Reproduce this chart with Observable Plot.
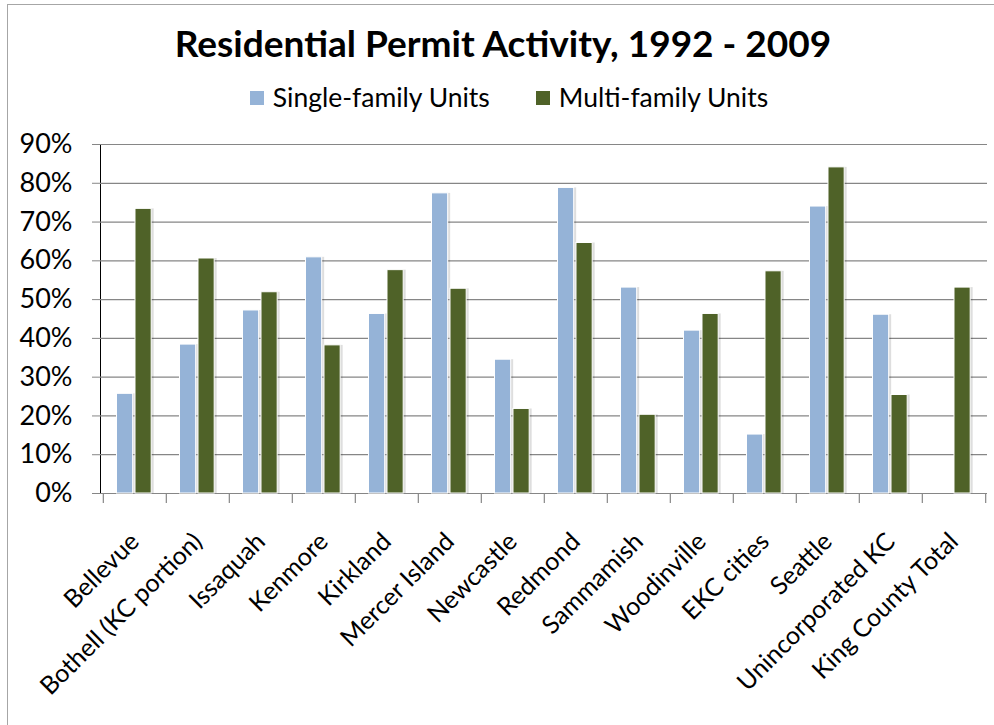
<!DOCTYPE html>
<html>
<head>
<meta charset="utf-8">
<script src="https://cdn.jsdelivr.net/npm/d3@7"></script>
<script src="https://cdn.jsdelivr.net/npm/@observablehq/plot@0.6"></script>
<style>
  html, body { margin: 0; padding: 0; background: #fff; overflow: hidden; }
  #wrap { position: relative; width: 994px; height: 725px; overflow: hidden; font-family: Lato, "Open Sans", sans-serif; }
  #border { position: absolute; left: 7px; top: 4px; width: 1100px; height: 900px; border: 1.5px solid #a6a6a6; box-sizing: border-box; }
  #title { position: absolute; left: 0; width: 1006px; top: 21px; text-align: center; font-weight: 700; font-size: 37px; line-height: 1.2; color: #000; white-space: nowrap; }
  #legend { position: absolute; left: 0; width: 1018px; top: 82px; display: flex; justify-content: center; font-size: 26.5px; line-height: 1.2; color: #000; }
  .item { display: flex; align-items: center; margin: 0 23px; }
  .sw { width: 14px; height: 14px; margin-right: 9px; }
  #chart { position: absolute; left: 0; top: 120px; }
  #chart svg [aria-label^="y-axis"] line, #chart svg [aria-label^="y-axis"] path { stroke: #868686; }
  #chart svg [aria-label^="y-axis"] text { font-size: 27px; }
  #chart svg [aria-label^="x-axis"] text { font-size: 25px; }
</style>
</head>
<body>
<div id="wrap">
  <div id="border"></div>
  <div id="title">Residential Permit Activity, 1992 - 2009</div>
  <div id="legend"></div>
  <div id="chart"></div>
</div>
<script>
const cities = ["Bellevue", "Bothell (KC portion)", "Issaquah", "Kenmore", "Kirkland", "Mercer Island", "Newcastle", "Redmond", "Sammamish", "Woodinville", "EKC cities", "Seattle", "Unincorporated KC", "King County Total"];
const singleFamily = [0.257, 0.384, 0.472, 0.609, 0.463, 0.774, 0.345, 0.788, 0.531, 0.420, 0.152, 0.740, 0.461, null];
const multiFamily  = [0.734, 0.606, 0.519, 0.382, 0.576, 0.528, 0.218, 0.646, 0.203, 0.463, 0.573, 0.841, 0.254, 0.531];
const seriesNames = ["Single-family Units", "Multi-family Units"];
const seriesColors = ["#95B3D7", "#4F6228"];
const yTicks = [0, 0.1, 0.2, 0.3, 0.4, 0.5, 0.6, 0.7, 0.8, 0.9];

const rows = cities.map((city, i) => ({city, single: singleFamily[i], multi: multiFamily[i]}));

// legend
const legend = document.getElementById("legend");
seriesNames.forEach((name, i) => {
  const item = document.createElement("div");
  item.className = "item";
  const sw = document.createElement("div");
  sw.className = "sw";
  sw.style.background = seriesColors[i];
  const label = document.createElement("span");
  label.textContent = name;
  item.appendChild(sw);
  item.appendChild(label);
  legend.appendChild(item);
});

const W = 994, H = 605, ML = 100, MR = 7, MT = 24, MB = 232;
const bw = (W - ML - MR) / cities.length;
const grid = "#868686";

const barOpts = (key, a, b) => ({
  x: "city", y: key,
  insetLeft: bw * a, insetRight: bw * (1 - b)
});

const chart = Plot.plot({
  width: W, height: H,
  marginLeft: ML, marginRight: MR, marginTop: MT, marginBottom: MB,
  style: {fontFamily: "Lato, 'Open Sans', sans-serif", fontSize: "25px", color: "#000", background: "transparent", overflow: "visible"},
  x: {domain: cities, padding: 0, label: null, tickSize: 0, tickRotate: -45, tickPadding: 44},
  y: {domain: [0, 0.9], ticks: yTicks, tickFormat: d3.format(".0%"), tickSize: 8, tickPadding: 20, label: null, line: true},
  marks: [
    Plot.ruleY(yTicks, {stroke: grid, strokeWidth: 1.2}),
    Plot.ruleX(cities, {x: d => d, y1: 0, y2: 0, dx: -bw / 2, insetBottom: -10, stroke: grid, strokeWidth: 1.2}),
    Plot.ruleX([cities[cities.length - 1]], {x: d => d, y1: 0, y2: 0, dx: bw / 2, insetBottom: -10, stroke: grid, strokeWidth: 1.2}),
    Plot.barY(rows.filter(d => d.single != null), {...barOpts("single", 0.213, 0.474), fill: "#000", fillOpacity: 0.13, dx: 2.5}),
    Plot.barY(rows, {...barOpts("multi", 0.505, 0.766), fill: "#000", fillOpacity: 0.13, dx: 2.5}),
    Plot.barY(rows.filter(d => d.single != null), {...barOpts("single", 0.213, 0.474), fill: seriesColors[0], stroke: "#fff", strokeWidth: 1}),
    Plot.barY(rows, {...barOpts("multi", 0.505, 0.766), fill: seriesColors[1], stroke: "#fff", strokeWidth: 1})
  ]
});
document.getElementById("chart").appendChild(chart);
</script>
</body>
</html>
